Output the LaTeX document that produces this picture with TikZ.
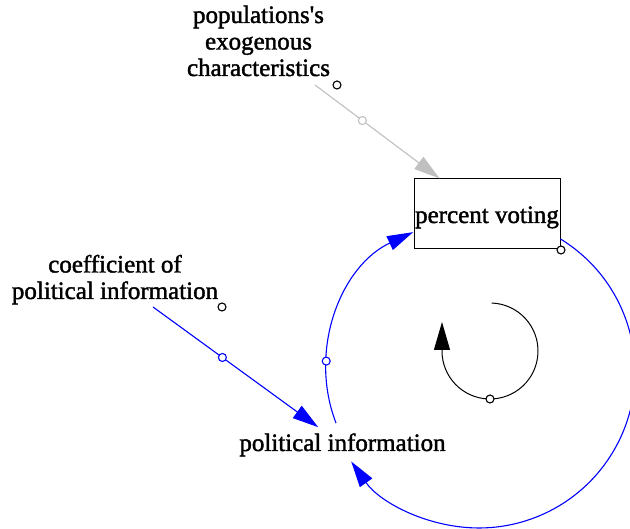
\documentclass[tikz,border=0pt]{standalone}
\usepackage{fontspec}
\setmainfont{Liberation Serif}
\newfontfamily\labelfont{Liberation Serif}[FakeBold=1.6]
\usetikzlibrary{arrows.meta}
\definecolor{linkblue}{RGB}{0,0,255}
\definecolor{linkgray}{RGB}{192,192,192}
\begin{document}
\begin{tikzpicture}[x=1pt,y=1pt,
  lbl/.style={font=\labelfont\fontsize{25}{26.5}\selectfont, inner sep=0pt, align=center},
  stockbox/.style={draw, line width=1pt, minimum width=146pt, minimum height=70pt,
    inner sep=0pt, text height=22pt, text depth=4pt, font=\labelfont\fontsize{25}{26.5}\selectfont},
  handle/.style={circle, draw, fill=white, inner sep=0pt, minimum size=8pt, line width=1.1pt},
  head/.style={-{Triangle[length=26pt,width=15pt]}},
  link/.style={line width=1.1pt, head},
]
\useasboundingbox (0,0) rectangle (630,529);

% variables (base anchor = baseline of the last line)
\node[lbl, anchor=base] (pop) at (258.5,453) {populations's\\exogenous\\characteristics};
\node[stockbox] (pv) at (487,315) {percent voting};
\node[lbl, anchor=base] (coef) at (115,230) {coefficient of\\political information};
\node[lbl, anchor=base, inner sep=6pt] (info) at (342.5,78) {political information};

% free ends of the straight links
\coordinate (g0) at (315,444);
\coordinate (c0) at (153,222);

% centres of the feedback arcs
\coordinate (loopL) at (477,160);
\coordinate (loopR) at (479,157);

% straight links
\draw[link, linkgray] (g0) -- (pv) node[handle, draw=linkgray, pos=0.38] (hg) {};
\draw[link, linkblue] (c0) -- (info) node[handle, draw=linkblue, pos=0.42] (hc) {};

% curved links
\draw[link, linkblue] ([shift={(201:151)}]loopL) arc[start angle=201, end angle=115, radius=151];
\draw[link, linkblue] ([shift={(58.5:156)}]loopR) arc[start angle=58.5, end angle=-145, radius=156];
\node[handle, draw=linkblue] (ha) at ([shift={(177:151)}]loopL) {};

% loop marker
\coordinate (mk) at (490,178);
\draw[line width=1pt, -{Triangle[length=28pt,width=16pt]}]
  ([shift={(88:48)}]mk) arc[start angle=88, end angle=-180, radius=48] -- ++(0,29);
\node[handle] (hm) at ([shift={(-90:48)}]mk) {};

% variable handles
\node[handle] (hp) at (337,444) {};
\node[handle] (hv) at (561,279) {};
\node[handle] (hk) at (222,222) {};
\end{tikzpicture}
\end{document}
